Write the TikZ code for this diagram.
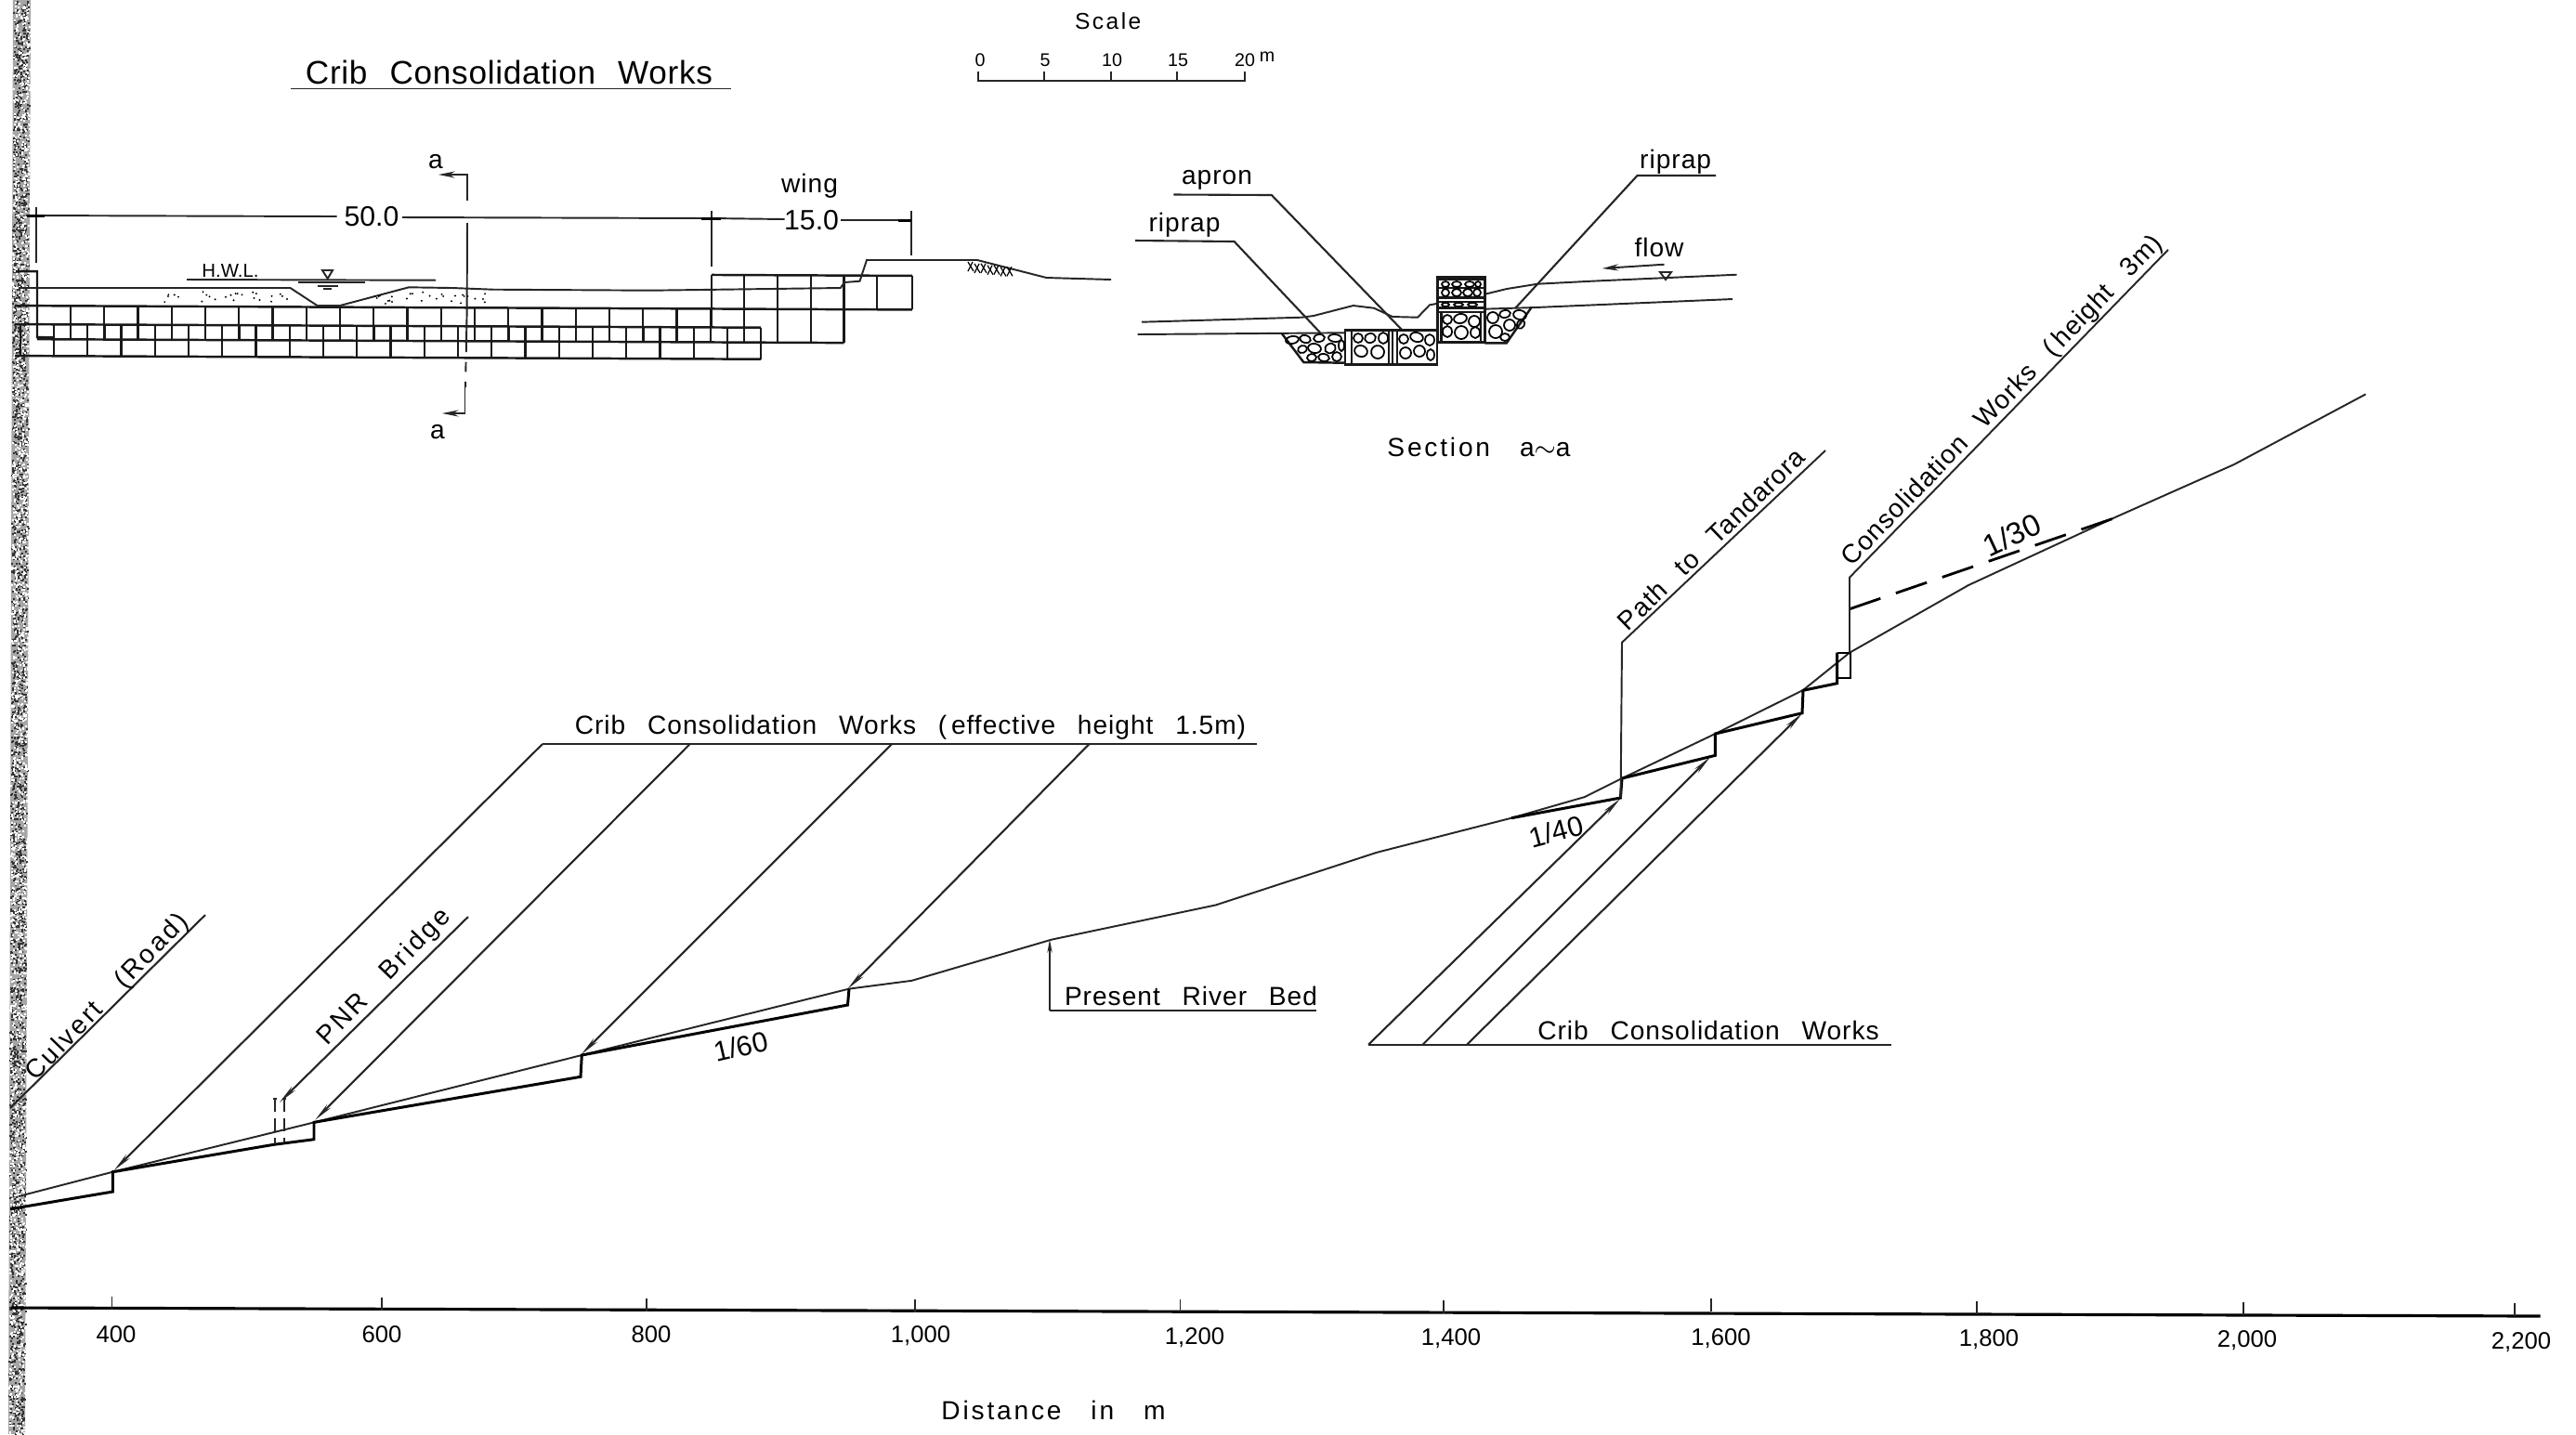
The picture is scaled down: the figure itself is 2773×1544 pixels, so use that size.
\documentclass[tikz,border=0pt]{standalone}
\usepackage{fontspec}
\setmainfont{Liberation Sans}
\newfontfamily\lsfont[LetterSpace=2,WordSpace=2.3]{Liberation Sans}
\newfontfamily\lsb[LetterSpace=3.5,WordSpace=2.7]{Liberation Sans}
\newfontfamily\lswide[LetterSpace=10,WordSpace=3]{Liberation Sans}
\usetikzlibrary{arrows.meta}
\tikzset{
 thin line/.style={line width=0.55pt,black!85},
 thick line/.style={line width=0.85pt,black},
 block/.style={line width=0.7pt,black!90},
 leader/.style={line width=0.6pt,black!85,-{Stealth[length=6pt,width=1.6pt]}},
 plainleader/.style={line width=0.6pt,black!85},
 stone/.style={line width=0.5pt,black},
 lab/.style={inner sep=0pt,font=\fontsize{8}{9}\lsb},
 widelab/.style={inner sep=0pt,font=\fontsize{8}{9}\lswide},
 big/.style={inner sep=0pt,font=\fontsize{10}{11}\lsfont},
 dim/.style={inner sep=0pt,font=\fontsize{8.6}{10}\selectfont},
 small/.style={inner sep=0pt,font=\fontsize{7}{8}\lswide},
 tick/.style={inner sep=0pt,font=\fontsize{7.3}{9}\selectfont},
 scalenum/.style={inner sep=0pt,font=\fontsize{5.6}{7}\selectfont},
}
\begin{document}
\begin{tikzpicture}[x=0.01cm,y=-0.01cm]
\useasboundingbox (0,0) rectangle (2773,1544);
\fill[white] (0,0) rectangle (2773,1544);
% speckled scan edge
\fill[black!35] (14,0) -- (33,0) -- (27,1544) -- (9,1544) -- cycle;
\pgfmathsetseed{11}
\foreach \i in {1,...,2600}{
  \pgfmathsetmacro{\py}{rnd*1544}
  \pgfmathsetmacro{\px}{14-5*\py/1544+rnd*(18-3*rnd)}
  \fill[black!80] (\px,\py) rectangle ++(2,2);
}
\foreach \i in {1,...,2000}{
  \pgfmathsetmacro{\py}{rnd*1544}
  \pgfmathsetmacro{\px}{14-5*\py/1544+rnd*18}
  \fill[white] (\px,\py) rectangle ++(2,2);
}
% title and scale
\node[big] (title) at (548,78) {Crib Consolidation Works};
\draw[thin line] (313,95.5) -- (787,95.5);
\node[small] (scale) at (1192.7,23) {Scale};
\draw[thin line] (1053.3,77) -- (1053.3,87.3) -- (1340,87.3) -- (1340,77);
\foreach \x in {1124,1196,1266.7} \draw[thin line] (\x,77) -- (\x,87.3);
\node[scalenum] (s0) at (1055,65) {0};
\node[scalenum] (s5) at (1125,65) {5};
\node[scalenum] (s10) at (1197,65) {10};
\node[scalenum] (s15) at (1268,65) {15};
\node[scalenum] (s20) at (1340,65) {20};
\node[scalenum] (sm) at (1364,61) {m};
% plan blocks
\begin{scope}[yslant=-0.0045]
 \draw[block] (16,329) -- (982,329);
 \draw[block] (16,349) -- (819,349);
 \draw[block] (40,365) -- (908.5,365);
 \draw[block] (16,383) -- (819,383);
 \draw[block] (766,292.5) -- (982,292.5);
 \draw[block] (819,349) -- (819,383);
 \draw[block] (17,292) -- (40,292) -- (40,363) -- (58,363);
 \draw[block] (22,349) -- (22,383);
 \foreach \k in {0,...,19} \draw[block] ({76+36.25*\k},329) -- ({76+36.25*\k},349);
 \foreach \k in {0,...,41} \draw[block] ({58+18.125*\k},349) -- ({58+18.125*\k},365);
 \foreach \k in {0,...,20} \draw[block] ({58+36.25*\k},365) -- ({58+36.25*\k},383);
 \draw[block] (766,292.5) -- (766,349);
 \foreach \x in {801,837,873,908.5} \draw[block] (\x,292.5) -- (\x,365);
 \foreach \x in {944,982} \draw[block] (\x,292.5) -- (\x,329);
\end{scope}
% plan ground
\draw[thin line] (20,310) -- (312.5,310) -- (341.5,329) -- (366,329) -- (440,309.3) -- (486.6,310) -- (531,311.7) -- (700,312.7) -- (904.7,310) -- (909,304) -- (925.5,302.7) -- (933,280) -- (1052,280) -- (1126.5,299) -- (1196,301);
\foreach \x/\d in {1042/0,1049/1,1056/0,1063/1,1070/0,1077/1,1084/0}{
  \draw[line width=0.35pt] (\x,282+\x/8-130.25+\d) -- ++(6,10);
  \draw[line width=0.35pt] (\x+5,282+\x/8-130.25+\d) -- ++(-5,10);
}
\foreach \i in {1,...,25}{
  \pgfmathsetmacro{\px}{175+rnd*135}\pgfmathsetmacro{\py}{314+rnd*12}
  \fill (\px,\py) circle (1.1);
}
\foreach \i in {1,...,28}{
  \pgfmathsetmacro{\px}{385+rnd*145}\pgfmathsetmacro{\py}{314+rnd*13}
  \fill (\px,\py) circle (1.1);
}
\node[inner sep=0pt,font=\fontsize{5.8}{7}\selectfont] (hwl) at (248,291.7) {H.W.L.};
\draw[thin line] (201,301) -- (469,301.7);
\draw[thin line] (347,291) -- (358,291) -- (352.7,300) -- cycle;
\draw[thin line] (321.4,304.3) -- (392.9,304.3);
\draw[thin line] (341.5,307.7) -- (363.8,307.7);
\draw[thin line] (348,311) -- (357,311);
% section marks
\node[lab] (atop) at (469,174) {a};
\node[lab] (abot) at (471,465) {a};
\draw[thin line,-{Stealth[length=5pt,width=2pt]}] (503,216) -- (503,188) -- (472,188);
\draw[thin line] (503,240) -- (502.6,337);
\draw[thin line,dash pattern=on 12pt off 3pt on 3pt off 3pt] (502.6,337) -- (501,417);
\draw[thin line,-{Stealth[length=5pt,width=2pt]}] (500.5,417) -- (500.5,445) -- (476,445);
% dimensions
\node[dim] (d50) at (400,233) {50.0};
\node[dim] (d15) at (873.6,237) {15.0};
\node[lab] (wing) at (871.6,200) {wing};
\draw[thin line] (29,232) -- (362.5,233);
\draw[thin line] (433,234) -- (766,235) -- (844.6,236);
\draw[thin line] (904.7,237) -- (981.4,237);
\draw[thin line] (39,223) -- (39,283);
\draw[thin line] (766,227) -- (766,287);
\draw[thin line] (981.4,227) -- (981.4,275);
\draw[thick line] (29,232) -- (48,232);
\draw[thick line] (755,235) -- (776,235);
\draw[thick line] (967,237) -- (981,237);
% cross section
\node[lab] (apron) at (1310,194) {apron};
\node[lab] (rip1) at (1275,242) {riprap};
\node[lab] (rip2) at (1803.6,174) {riprap};
\node[lab] (flow) at (1786,266) {flow};
\node[widelab] (secaa) at (1592,481) {Section a$\sim$a};
\draw[plainleader] (1263.4,209.5) -- (1368.8,210) -- (1510,356);
\draw[plainleader] (1222,259) -- (1328.6,260) -- (1421,358);
\draw[plainleader] (1847,189) -- (1762.5,189) -- (1631,332);
\draw[thin line,-{Stealth[length=5pt,width=2pt]}] (1791.5,284.7) -- (1724.6,289);
\draw[thin line] (1787,293) -- (1799,293) -- (1793,301) -- cycle;
\draw[thin line] (1598.5,316.7) -- (1622,311) -- (1655,305.7) -- (1713,302.7) -- (1869.6,295.7);
\draw[thin line] (1597,332.7) -- (1653,331) -- (1865,322);
\draw[thin line] (1229,346.7) -- (1401,341.7) -- (1414,340) -- (1456.7,329) -- (1479,331.7) -- (1499,341) -- (1526,341.7) -- (1539,328.3) -- (1548,326.7);
\draw[thin line] (1224.6,360) -- (1448,358.3);
\draw[block] (1448,355.5) rectangle (1547,392.7);
\foreach \x in {1455,1495,1499,1504} \draw[block] (\x,355.5) -- (\x,392.7);
\draw[block] (1547.7,298.3) rectangle (1598.3,368.3);
\foreach \y in {300.7,310,320.7,325,331.7,336} \draw[block] (1547.7,\y) -- (1598.3,\y);
\draw[block] (1551.7,336) -- (1551.7,368.3);
\draw[block] (1594,336) -- (1594,368.3);
\draw[block] (1380,359.3) -- (1403.3,390) -- (1448,390.7);
\draw[block] (1648,331.7) -- (1621.7,369.3) -- (1598.3,369.3);
\foreach \x/\y/\a/\b/\r in {
 1391/366/7/4/10,1405/365/6/4/-15,1420/364/6/4/8,1437/364/7/4/-5,
 1402/376/5/4/20,1415/375/7/5/-10,1432/375/6/5/30,1444/372/3/6/0,
 1412/385/5/4/5,1425/385/6/4/-10,1439/384/5/5/0,
 1462/364/5/5/0,1475/364/6/5/15,1489/364/5/6/0,1465/378/7/6/-20,1483/379/7/7/10,
 1511/365/5/5/0,1525/363/7/5/-15,1539/366/5/6/0,1513/380/6/6/0,1528/378/6/6/20,1540/382/4/6/0,
 1558/344/5/5/0,1572/343/7/5/10,1587/346/6/6/0,1558/357/5/6/0,1573/358/7/7/0,1588/358/5/6/0,
 1607/342/6/6/0,1620/338/6/4/10,1636/339/7/5/-10,1610/357/7/7/0,1625/350/6/6/0,1637/349/4/5/-30,1620/363/5/4/0,
 1556/306/4/3/0,1568/306/5/3/0,1582/306/5/3/0,1591/306/3/3/0,
 1556/315/4/4/0,1568/315/5/4/0,1580/315/5/4/0,1590/315/4/4/0,
 1556/328/4/2/0,1570/328/5/2/0,1585/328/5/2/0}{
 \draw[stone,rotate around={\r:(\x,\y)}] (\x,\y) ellipse [x radius=\a,y radius=\b];
}
% profile: present bed
\draw[thin line] (20,1288) -- (121.4,1261.7) -- (338.4,1208.3) -- (626.3,1136) -- (914,1064.6) -- (981.5,1055.8) -- (1132,1011.6) -- (1308.7,974.4) -- (1482,917.8) -- (1627,880.7) -- (1706,858) -- (1746,838) -- (1846.4,790) -- (1941,743) -- (1991,702.7) -- (2119,630) -- (2277.5,556.7) -- (2405,500) -- (2546.6,424.4);
% old bed
\draw[thick line] (11,1301.7) -- (121.4,1283) -- (121.4,1261.7) -- (294.6,1232.3) -- (338,1226.7) -- (338,1208.3) -- (625,1159.3) -- (626.3,1136) -- (912.5,1082) -- (914,1064.6);
\draw[thick line] (1627,880.7) -- (1744.4,859) -- (1746,838) -- (1846.4,813.3) -- (1846.4,790) -- (1940,767.7) -- (1941,743.3) -- (1977.6,735.7) -- (1977.6,702.7);
\draw[line width=0.65pt] (1977.6,702.7) -- (1992,702.7) -- (1992,730) -- (1977.6,730);
\draw[line width=0.8pt,dash pattern=on 10pt off 5pt] (1991,655.7) -- (2277.5,557.3);
% bridge
\draw[thin line,dash pattern=on 4pt off 2pt] (296,1183) -- (296,1231.7);
\draw[thin line,dash pattern=on 4pt off 2pt] (305.8,1183) -- (305.8,1229.7);
\draw[thin line] (294,1183) -- (298,1183);
\draw[thin line] (304,1183) -- (308,1183);
% leaders
\draw[plainleader] (584,801) -- (1353,801);
\draw[leader] (584,801) -- (122.8,1260);
\draw[leader] (742.7,801) -- (339.3,1205.7);
\draw[leader] (960,801) -- (626,1135);
\draw[leader] (1172.5,801) -- (912.5,1064.6);
\node[lab] (crib1) at (980,783) {Crib Consolidation Works (\,effective height 1.5m)};
\draw[leader] (504,987) -- (301,1186.7);
\node[widelab,rotate=46] (pnr) at (414,1052) {PNR Bridge};
\draw[plainleader] (221,985) -- (11,1193);
\node[widelab,rotate=46] (culvert) at (116,1074) {Culvert (Road)};
\draw[thin line] (1965,485) -- (1746,691.7) -- (1744.6,859);
\node[lab,rotate=44] (path) at (1842,580) {Path to Tandarora};
\draw[thin line] (2334,268.8) -- (1991,621.7) -- (1991,702.7);
\node[lab,rotate=46] (cons) at (2156,432) {Consolidation Works (\,height 3m)};
\draw[plainleader] (1473,1124.7) -- (2035.5,1124.7);
\draw[leader] (1473,1124.7) -- (1744,860);
\draw[leader] (1531.5,1124.7) -- (1841,815);
\draw[leader] (1579,1124.7) -- (1940,768);
\node[lab] (crib2) at (1839,1109) {Crib Consolidation Works};
\draw[thin line,-{Stealth[length=4pt,width=1.5pt]}] (1130,1087.6) -- (1130,1011.6);
\draw[thin line] (1130,1087.6) -- (1416.6,1087.6);
\node[lab] (bed) at (1282,1072) {Present River Bed};
\node[inner sep=0pt,rotate=13,font=\fontsize{8.6}{10}\selectfont] (s60) at (797.6,1126.5) {1/60};
\node[inner sep=0pt,rotate=15,font=\fontsize{8.6}{10}\selectfont] (s40) at (1675,895) {1/40};
\node[inner sep=0pt,rotate=25,font=\fontsize{9.4}{11}\selectfont] (s30) at (2166,576) {1/30};
% axis
\draw[line width=0.9pt] (12,1408) -- (2734.6,1417);
\foreach \x/\yy in {120.5/1396,410.7/1397,696.4/1398,985/1399,1270.5/1399,1554/1400,1841.8/1398,2128/1401,2415/1402,2707/1403}
  \draw[thin line] (\x,\yy) -- (\x,\yy+14);
\node[tick] (t400) at (125,1436.7) {400};
\node[tick] (t600) at (411,1436.7) {600};
\node[tick] (t800) at (701,1437) {800};
\node[tick] (t1000) at (991,1438) {1,000};
\node[tick] (t1200) at (1286,1440) {1,200};
\node[tick] (t1400) at (1562,1441) {1,400};
\node[tick] (t1600) at (1852.5,1441) {1,600};
\node[tick] (t1800) at (2141,1442) {1,800};
\node[tick] (t2000) at (2419,1443) {2,000};
\node[tick] (t2200) at (2714,1445) {2,200};
\node[widelab] (dist) at (1134,1518) {Distance in m};
\end{tikzpicture}
\end{document}
